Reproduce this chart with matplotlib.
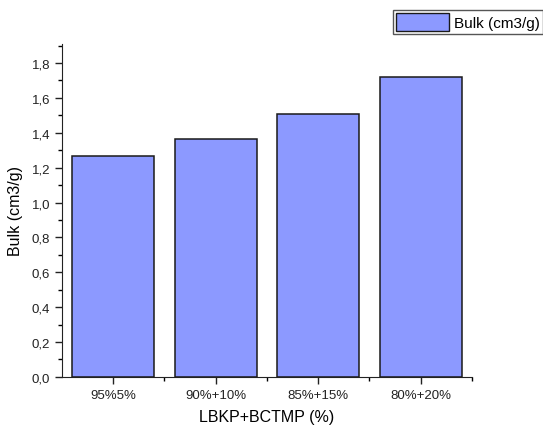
import matplotlib
matplotlib.use('Agg')
import matplotlib.pyplot as plt
from matplotlib.ticker import FixedLocator, MultipleLocator, FuncFormatter
from matplotlib.patches import Patch

# Bulk values per fibre blend
categories = ['95%5%', '90%+10%', '85%+15%', '80%+20%']
bulk = [1.267, 1.365, 1.508, 1.72]

plt.rcParams['font.family'] = ['Liberation Sans', 'DejaVu Sans']

fig = plt.figure(figsize=(5.43, 4.27), dpi=100)
ax = fig.add_axes([0.114, 0.115, 0.755, 0.78])

x = list(range(len(categories)))
ax.bar(x, bulk, width=0.8, color='#8c99ff', edgecolor='#1a1a1a', linewidth=1.1)

ax.set_xlim(-0.5, 3.5)
ax.set_ylim(0, 1.91)
ax.set_xticks(x)
ax.set_xticklabels(categories, fontsize=9.5)
ax.xaxis.set_minor_locator(FixedLocator([0.5, 1.5, 2.5, 3.5]))
ax.yaxis.set_major_locator(MultipleLocator(0.2))
ax.yaxis.set_minor_locator(MultipleLocator(0.1))
ax.yaxis.set_major_formatter(FuncFormatter(lambda v, p: f'{v:.1f}'.replace('.', ',')))
ax.tick_params(axis='both', which='major', direction='out', length=5, width=1, labelsize=9.5, colors='#222222')
ax.tick_params(axis='both', which='minor', direction='out', length=3, width=1)

ax.spines['top'].set_visible(False)
ax.spines['right'].set_visible(False)
ax.spines['left'].set_color('#222222')
ax.spines['bottom'].set_color('#222222')

ax.set_xlabel('LBKP+BCTMP (%)', fontsize=11.5, labelpad=6)
ax.set_ylabel('Bulk (cm3/g)', fontsize=11.5, labelpad=6)

fig.legend(handles=[Patch(facecolor='#8c99ff', edgecolor='#1a1a1a', label='Bulk (cm3/g)')],
           loc='upper right', bbox_to_anchor=(1.0, 0.975), fontsize=11,
           frameon=True, fancybox=False, edgecolor='#555555', framealpha=1,
           handlelength=3.5, handleheight=1.5, handletextpad=0.3, borderpad=0.2,
           borderaxespad=0.0)

fig.savefig('out.png', dpi=100, facecolor='white')
